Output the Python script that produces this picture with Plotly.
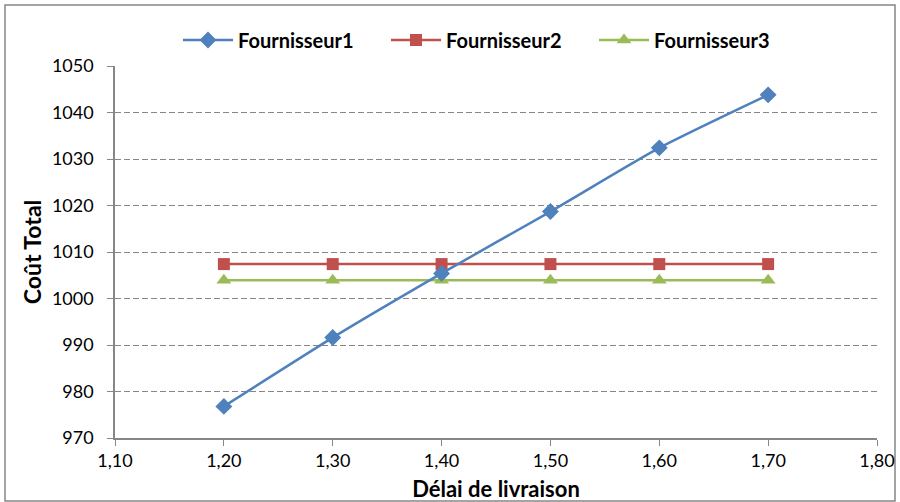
import plotly.graph_objects as go

x_vals = [1.2, 1.3, 1.4, 1.5, 1.6, 1.7]
fournisseur1 = [976.8, 991.6, 1005.4, 1018.7, 1032.4, 1043.8]
fournisseur2 = [1007.4, 1007.4, 1007.4, 1007.4, 1007.4, 1007.4]
fournisseur3 = [1003.9, 1003.9, 1003.9, 1003.9, 1003.9, 1003.9]
x_ticks = [1.1, 1.2, 1.3, 1.4, 1.5, 1.6, 1.7, 1.8]
y_ticks = [970, 980, 990, 1000, 1010, 1020, 1030, 1040, 1050]

FONT = "Lato, 'Open Sans', sans-serif"

fig = go.Figure()
fig.add_trace(go.Scatter(x=x_vals, y=fournisseur2, name="Fournisseur2", mode="lines+markers",
                         legendrank=2,
                         line=dict(color="#C0504D", width=2.5),
                         marker=dict(symbol="square", size=12, color="#C0504D")))
fig.add_trace(go.Scatter(x=x_vals, y=fournisseur3, name="Fournisseur3", mode="lines+markers",
                         legendrank=3,
                         line=dict(color="#9BBB59", width=2.5),
                         marker=dict(symbol="triangle-up", size=13, color="#9BBB59")))
fig.add_trace(go.Scatter(x=x_vals, y=fournisseur1, name="Fournisseur1", mode="lines+markers",
                         legendrank=1,
                         line=dict(color="#4F81BD", width=2.5, shape="spline", smoothing=0.6),
                         marker=dict(symbol="diamond", size=13, color="#4F81BD")))

W, H = 900, 502
ml, mr, mt, mb = 115, 23, 66, 64
pw, ph = W - ml - mr, H - mt - mb

fig.update_layout(
    width=W, height=H,
    margin=dict(l=ml, r=mr, t=mt, b=mb, autoexpand=False),
    paper_bgcolor="white", plot_bgcolor="white",
    separators=",.",
    font=dict(family=FONT, size=18, color="black"),
    legend=dict(orientation="h", x=(178 - ml) / pw, xanchor="left", y=(438 - 40) / ph, yanchor="middle",
                font=dict(family=FONT, size=20, color="black", weight="bold"),
                traceorder="normal", entrywidth=143, entrywidthmode="pixels", itemwidth=50),
    xaxis=dict(range=[1.1, 1.8], tickvals=x_ticks, tickformat=".2f",
               showline=True, linecolor="#868686", linewidth=1.5,
               ticks="outside", ticklen=6, tickcolor="#868686",
               showgrid=False, zeroline=False,
               title=dict(text="Délai de livraison", font=dict(family=FONT, size=22, weight="bold"), standoff=12)),
    yaxis=dict(range=[970, 1050], tickvals=y_ticks,
               showline=True, linecolor="#868686", linewidth=1.5,
               ticks="outside", ticklen=6, tickcolor="#868686", ticklabelstandoff=10,
               showgrid=True, gridcolor="#868686", griddash="6px,3px", gridwidth=1.2,
               zeroline=False,
               title=dict(text="Coût Total", font=dict(family=FONT, size=23, weight="bold"), standoff=4)),
)

fig.add_shape(type="rect", xref="paper", yref="paper",
              x0=(5 - ml) / pw, x1=(895 - ml) / pw,
              y0=(H - mb - 501) / ph, y1=(H - mb - 5) / ph,
              line=dict(color="#868686", width=1.5), fillcolor="rgba(0,0,0,0)", layer="below")

fig.write_html("out.html", config={"displayModeBar": False},
               post_script="document.body.style.margin='0';document.body.style.overflow='hidden';")
